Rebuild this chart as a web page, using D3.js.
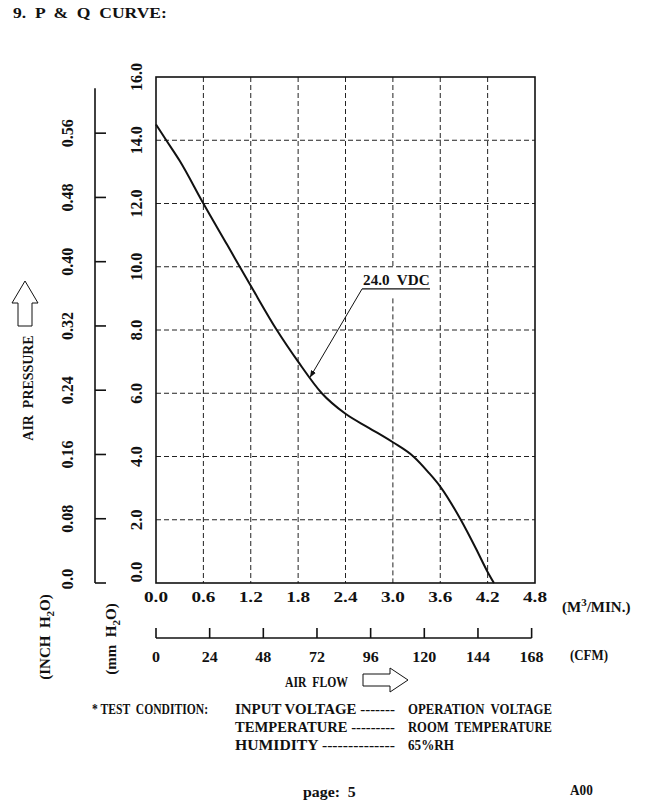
<!DOCTYPE html>
<html>
<head>
<meta charset="utf-8">
<script src="https://cdn.jsdelivr.net/npm/d3@7"></script>
<style>
  body { margin: 0; background: #fff; }
  text { font-family: "Liberation Serif", "Times New Roman", serif; font-weight: bold; fill: #111; white-space: pre; }
</style>
</head>
<body>
<div id="chart"></div>
<script>
// P & Q curve: air flow (m3/min) vs static pressure (mm H2O)
const flowM3 = [0, 0.13, 0.3, 0.6, 0.9, 1.2, 1.53, 1.8, 2.1, 2.4, 2.7, 3.0, 3.26, 3.45, 3.6, 3.86, 4.05, 4.2, 4.28];
const pressureMm = [14.5, 14.0, 13.35, 12.0, 10.7, 9.4, 8.0, 7.0, 6.0, 5.35, 4.9, 4.45, 4.0, 3.5, 3.05, 2.0, 1.1, 0.35, 0];

const mmTicks = [0, 2, 4, 6, 8, 10, 12, 14, 16];
const inchTicks = [0, 0.08, 0.16, 0.24, 0.32, 0.40, 0.48, 0.56];
const m3Ticks = [0, 0.6, 1.2, 1.8, 2.4, 3.0, 3.6, 4.2, 4.8];
const cfmTicks = [0, 24, 48, 72, 96, 120, 144, 168];

const curveLabel = "24.0  VDC";
const testLeft = ["INPUT VOLTAGE -------", "TEMPERATURE ---------", "HUMIDITY --------------"];
const testRight = ["OPERATION  VOLTAGE", "ROOM  TEMPERATURE", "65%RH"];

const width = 651, height = 804;

const svg = d3.select("#chart").append("svg")
    .attr("width", width)
    .attr("height", height)
    .style("display", "block");

svg.append("rect").attr("width", width).attr("height", height).attr("fill", "#fff");

// scales: plot frame 156..535 x 77..583
const x = d3.scaleLinear().domain([0, 4.8]).range([156, 535]);
const y = d3.scaleLinear().domain([0, 16]).range([583, 77]);
const xCfm = d3.scaleLinear().domain([0, 4.8 * 35.3147]).range([156, 535]);
const yIn = d3.scaleLinear().domain([0, 16 / 25.4]).range([583, 77]);

// squeeze/stretch text so it takes the same width per character as the original typeface
function fit(sel, str, cw) {
    return sel.text(str)
        .attr("textLength", str.length * cw)
        .attr("lengthAdjust", "spacingAndGlyphs");
}

// title
fit(svg.append("text").attr("x", 13).attr("y", 18).style("font-size", "15px"), "9.  P  &  Q  CURVE:", 8.1);

// grid
const grid = svg.append("g")
    .attr("stroke", "#222")
    .attr("stroke-width", 1)
    .attr("stroke-dasharray", "5,3");

grid.selectAll(".hgrid")
    .data(mmTicks.filter(d => d > 0 && d < 16))
    .enter().append("line")
    .attr("x1", x(0)).attr("x2", x(4.8))
    .attr("y1", d => y(d)).attr("y2", d => y(d));

// vertical grid (the 3.0 line is broken where the curve label sits)
const vSegs = [];
m3Ticks.filter(d => d > 0 && d < 4.8).forEach(d => {
    if (d === 3.0) {
        vSegs.push({ v: d, top: 16, bot: 10 });
        vSegs.push({ v: d, top: 9.0, bot: 0 });
    } else {
        vSegs.push({ v: d, top: 16, bot: 0 });
    }
});
grid.selectAll(".vgrid")
    .data(vSegs)
    .enter().append("line")
    .attr("x1", d => x(d.v)).attr("x2", d => x(d.v))
    .attr("y1", d => y(d.top)).attr("y2", d => y(d.bot));

// frame
svg.append("rect")
    .attr("x", x(0)).attr("y", y(16))
    .attr("width", x(4.8) - x(0)).attr("height", y(0) - y(16))
    .attr("fill", "none")
    .attr("stroke", "#111")
    .attr("stroke-width", 1.6);

// curve
const line = d3.line()
    .x(d => x(d[0]))
    .y(d => y(d[1]))
    .curve(d3.curveMonotoneX);

svg.append("path")
    .datum(flowM3.map((f, i) => [f, pressureMm[i]]))
    .attr("d", line)
    .attr("fill", "none")
    .attr("stroke", "#111")
    .attr("stroke-width", 2);

// curve annotation
svg.append("defs").append("marker")
    .attr("id", "tip")
    .attr("viewBox", "0 0 10 10")
    .attr("refX", 10).attr("refY", 5)
    .attr("markerWidth", 7).attr("markerHeight", 7)
    .attr("orient", "auto-start-reverse")
    .append("path")
    .attr("d", "M0,1 L10,5 L0,9 Z")
    .attr("fill", "#111");

const lblX = x(2.61), lblY = y(9.3);
svg.append("line")
    .attr("x1", lblX).attr("y1", lblY)
    .attr("x2", x(3.47)).attr("y2", lblY)
    .attr("stroke", "#111").attr("stroke-width", 1.2);
svg.append("line")
    .attr("x1", lblX).attr("y1", lblY)
    .attr("x2", x(1.95)).attr("y2", y(6.5))
    .attr("stroke", "#111").attr("stroke-width", 1)
    .attr("marker-end", "url(#tip)");
fit(svg.append("text").attr("x", lblX + 1).attr("y", lblY - 4).style("font-size", "14px"), curveLabel, 7.4);

// mm H2O labels (rotated); the bottom one is lifted clear of the x labels
svg.append("g").selectAll("text")
    .data(mmTicks)
    .enter().append("text")
    .attr("transform", d => `translate(142,${y(d) - (d === 0 ? 11 : 0)}) rotate(-90)`)
    .attr("text-anchor", "middle")
    .style("font-size", "17px")
    .each(function (d) { fit(d3.select(this), d.toFixed(1), 7); });

// inch H2O axis
const inchAxis = svg.append("g").attr("stroke", "#111").attr("stroke-width", 1.6);
inchAxis.append("line")
    .attr("x1", 95).attr("x2", 95)
    .attr("y1", yIn(0)).attr("y2", yIn(0.616));
inchAxis.selectAll(".tk")
    .data(inchTicks)
    .enter().append("line")
    .attr("x1", 95).attr("x2", 106)
    .attr("y1", d => yIn(d)).attr("y2", d => yIn(d));

svg.append("g").selectAll("text")
    .data(inchTicks)
    .enter().append("text")
    .attr("transform", d => `translate(73,${yIn(d) - (d === 0 ? 4 : 0)}) rotate(-90)`)
    .attr("text-anchor", "middle")
    .style("font-size", "17px")
    .each(function (d) { fit(d3.select(this), d === 0 ? "0.0" : d.toFixed(2), 7); });

// m3/min labels
svg.append("g").selectAll("text")
    .data(m3Ticks)
    .enter().append("text")
    .attr("x", d => x(d)).attr("y", 602)
    .attr("text-anchor", "middle")
    .style("font-size", "15px")
    .each(function (d) { fit(d3.select(this), d.toFixed(1), 8); });

const m3Unit = svg.append("text").attr("x", 562).attr("y", 612).style("font-size", "15px");
m3Unit.append("tspan").text("(M");
m3Unit.append("tspan").attr("dy", -6).style("font-size", "11px").text("3");
m3Unit.append("tspan").attr("dy", 6).text("/MIN.)");

// CFM axis
const cfmAxis = svg.append("g").attr("stroke", "#111").attr("stroke-width", 1.6);
cfmAxis.append("line")
    .attr("x1", xCfm(0)).attr("x2", xCfm(168))
    .attr("y1", 638).attr("y2", 638);
cfmAxis.selectAll(".tk")
    .data(cfmTicks)
    .enter().append("line")
    .attr("x1", d => xCfm(d)).attr("x2", d => xCfm(d))
    .attr("y1", 628).attr("y2", 638);

svg.append("g").selectAll("text")
    .data(cfmTicks)
    .enter().append("text")
    .attr("x", d => xCfm(d)).attr("y", 662)
    .attr("text-anchor", "middle")
    .style("font-size", "15px")
    .each(function (d) { fit(d3.select(this), String(d), 8); });

fit(svg.append("text").attr("x", 570).attr("y", 660).style("font-size", "15px"), "(CFM)", 7.6);

// AIR FLOW + arrow
fit(svg.append("text").attr("x", 285).attr("y", 687).style("font-size", "15px"), "AIR  FLOW", 7.0);
svg.append("polygon")
    .attr("points", "363,674 390,674 390,668 408,680 390,692 390,686 363,686")
    .attr("fill", "#fff").attr("stroke", "#111").attr("stroke-width", 1);

// AIR PRESSURE + arrow
fit(svg.append("text").attr("transform", "translate(33,388) rotate(-90)")
    .attr("text-anchor", "middle").style("font-size", "15px"), "AIR  PRESSURE", 8.1);
svg.append("polygon")
    .attr("points", "25,281 38,303 32,303 32,326 18,326 18,303 12,303")
    .attr("fill", "#fff").attr("stroke", "#111").attr("stroke-width", 1);

// unit labels on the left
const inchUnit = svg.append("text").attr("transform", "translate(50,637) rotate(-90)")
    .attr("text-anchor", "middle").style("font-size", "15px");
inchUnit.append("tspan").text("(INCH  H");
inchUnit.append("tspan").attr("dy", 4).style("font-size", "11px").text("2");
inchUnit.append("tspan").attr("dy", -4).text("O)");

const mmUnit = svg.append("text").attr("transform", "translate(116,639) rotate(-90)")
    .attr("text-anchor", "middle").style("font-size", "15px");
mmUnit.append("tspan").text("(mm  H");
mmUnit.append("tspan").attr("dy", 4).style("font-size", "11px").text("2");
mmUnit.append("tspan").attr("dy", -4).text("O)");

// test condition block
fit(svg.append("text").attr("x", 92).attr("y", 714).style("font-size", "15px"), "* TEST  CONDITION:", 116 / 18);
testLeft.forEach((s, i) => {
    fit(svg.append("text").attr("x", 235).attr("y", 714 + i * 18).style("font-size", "15px"), s, 160 / s.length);
});
testRight.forEach((s, i) => {
    const w = i === 2 ? 46 : 144;
    fit(svg.append("text").attr("x", 408).attr("y", 714 + i * 18).style("font-size", "15px"), s, w / s.length);
});

// footer
fit(svg.append("text").attr("x", 303).attr("y", 797).style("font-size", "15px"), "page:  5", 6.6);
fit(svg.append("text").attr("x", 570).attr("y", 795).style("font-size", "14px"), "A00", 7.6);
</script>
</body>
</html>
